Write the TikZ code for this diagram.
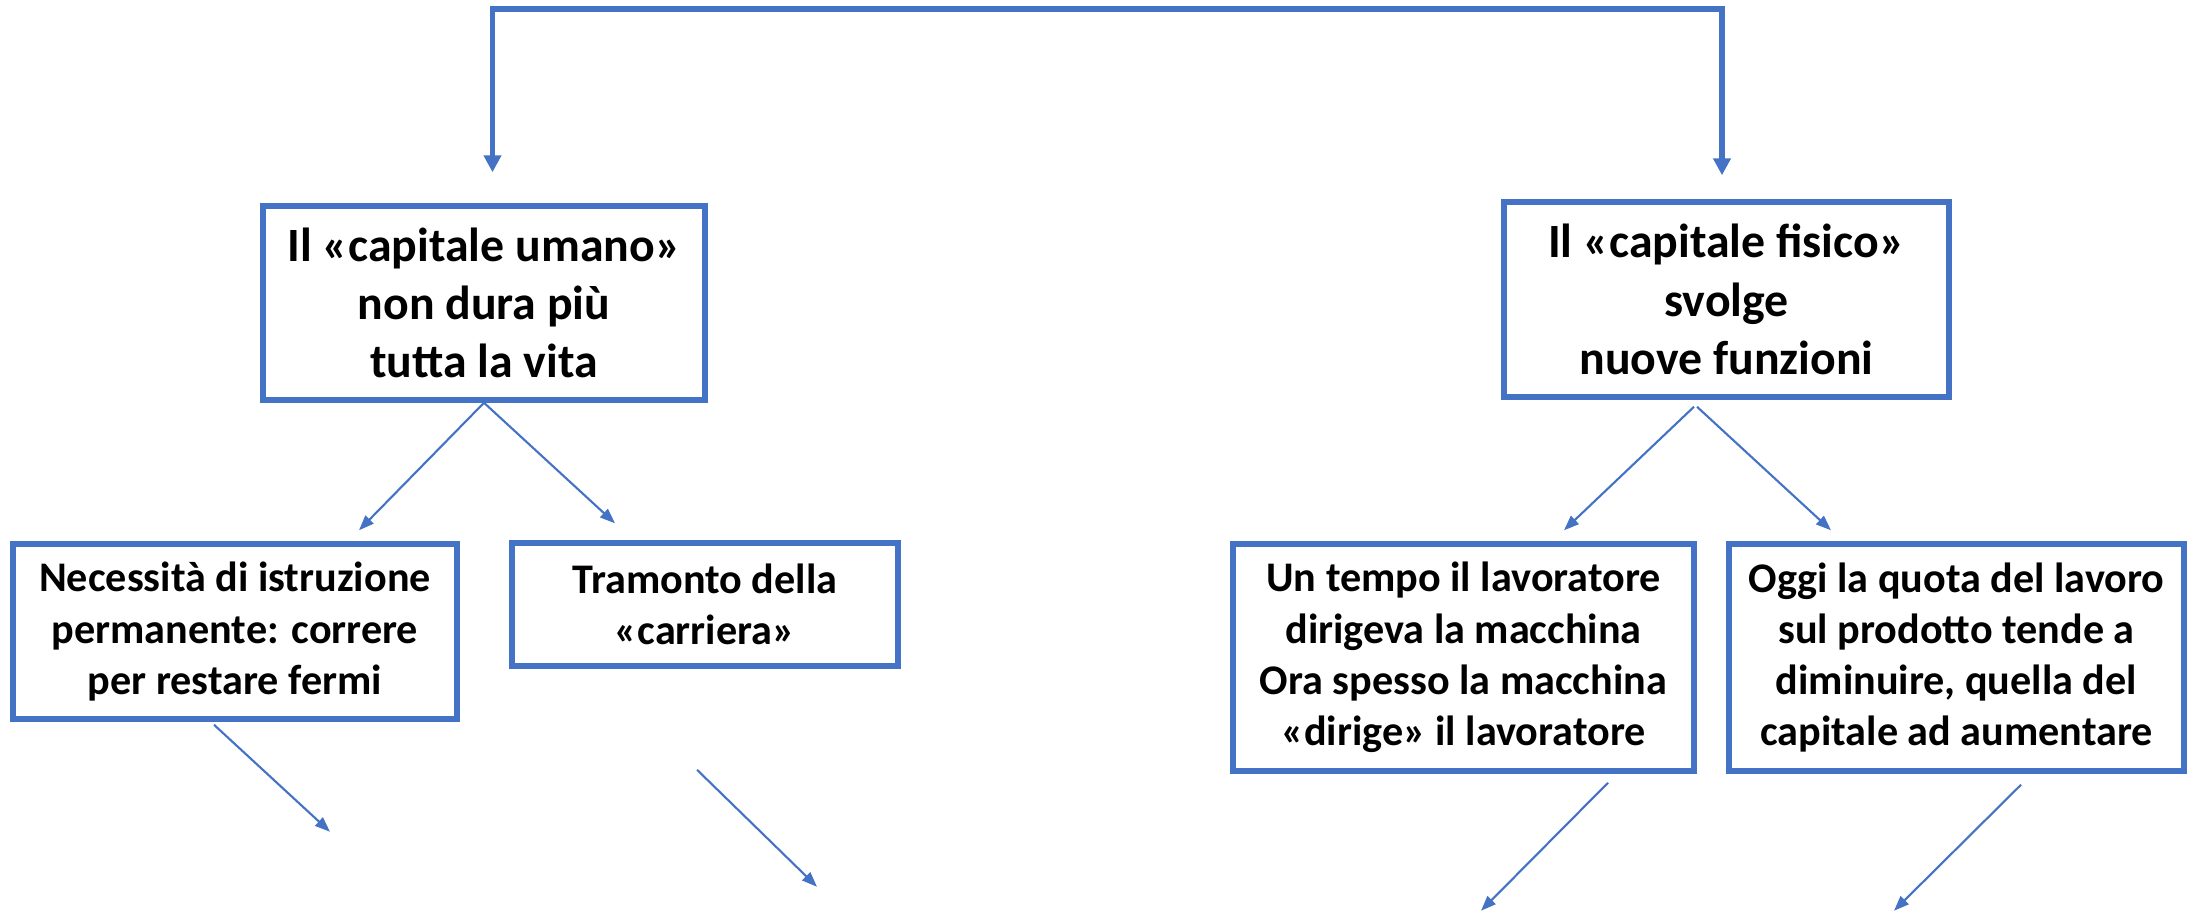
\documentclass[tikz,border=0pt]{standalone}
\usepackage{fontspec}
\setmainfont{Carlito}
\usetikzlibrary{arrows.meta}
\definecolor{boxblue}{HTML}{4472C4}

\begin{document}
\begin{tikzpicture}[
        box/.style={draw=boxblue, line width=1.56pt, align=center, inner sep=0pt},
        bigtext/.style={font=\fontsize{13.6}{16.6}\selectfont\bfseries},
        smalltext/.style={font=\fontsize{12}{14.6}\selectfont\bfseries},
        link/.style={draw=boxblue, line width=0.6pt, -{Triangle[length=4.3pt, width=3.2pt]}},
        bracket/.style={draw=boxblue, line width=1.7pt, {Triangle[length=4.8pt, width=4.8pt]}-{Triangle[length=4.8pt, width=4.8pt]}}
    ]
        \useasboundingbox (0, 0) rectangle (21.87, -9.11);

        \coordinate (top) at (10, -0.09);

        \node[box, bigtext, minimum width=4.42cm, minimum height=1.94cm] (umano) at (4.84, -3.03)
            {Il «capitale umano»\\non dura più\\tutta la vita};
        \node[box, bigtext, minimum width=4.45cm, minimum height=1.95cm] (fisico) at (17.265, -2.995)
            {Il «capitale fisico»\\svolge\\nuove funzioni};

        \node[box, smalltext, minimum width=4.44cm, minimum height=1.75cm] (istruz) at (2.35, -6.315)
            {Necessità di istruzione\\permanente: correre\\per restare fermi};
        \node[box, smalltext, minimum width=3.86cm, minimum height=1.23cm] (carriera) at (7.05, -6.045)
            {Tramonto della\\«carriera»};
        \node[box, smalltext, minimum width=4.61cm, minimum height=2.27cm] (macchina) at (14.635, -6.575)
            {Un tempo il lavoratore\\dirigeva la macchina\\Ora spesso la macchina\\«dirige» il lavoratore};
        \node[box, smalltext, minimum width=4.55cm, minimum height=2.27cm] (quota) at (19.565, -6.575)
            {Oggi la quota del lavoro\\sul prodotto tende a\\diminuire, quella del\\capitale ad aumentare};

        % top bracket
        \draw[bracket] ([xshift=0.085cm, yshift=0.31cm]umano.north) |- (top)
            -| ([xshift=-0.045cm, yshift=0.24cm]fisico.north);

        % first level
        \draw[link] (umano.south) -- ([xshift=1.24cm, yshift=0.11cm]istruz.north);
        \draw[link] (umano.south) -- ([xshift=-0.9cm, yshift=0.17cm]carriera.north);
        \draw[link] ([xshift=-0.325cm, yshift=-0.07cm]fisico.south) -- ([xshift=1.005cm, yshift=0.11cm]macchina.north);
        \draw[link] ([xshift=-0.295cm, yshift=-0.07cm]fisico.south) -- ([xshift=-1.255cm, yshift=0.11cm]quota.north);

        % second level
        \draw[link] ([xshift=-0.21cm, yshift=-0.03cm]istruz.south) -- ([xshift=0.95cm, yshift=-1.1cm]istruz.south);
        \draw[link] ([xshift=-0.08cm, yshift=-1.01cm]carriera.south) -- ([xshift=1.12cm, yshift=-2.18cm]carriera.south);
        \draw[link] ([xshift=1.445cm, yshift=-0.09cm]macchina.south) -- ([xshift=0.175cm, yshift=-1.37cm]macchina.south);
        \draw[link] ([xshift=0.645cm, yshift=-0.11cm]quota.south) -- ([xshift=-0.625cm, yshift=-1.37cm]quota.south);
    \end{tikzpicture}
\end{document}
